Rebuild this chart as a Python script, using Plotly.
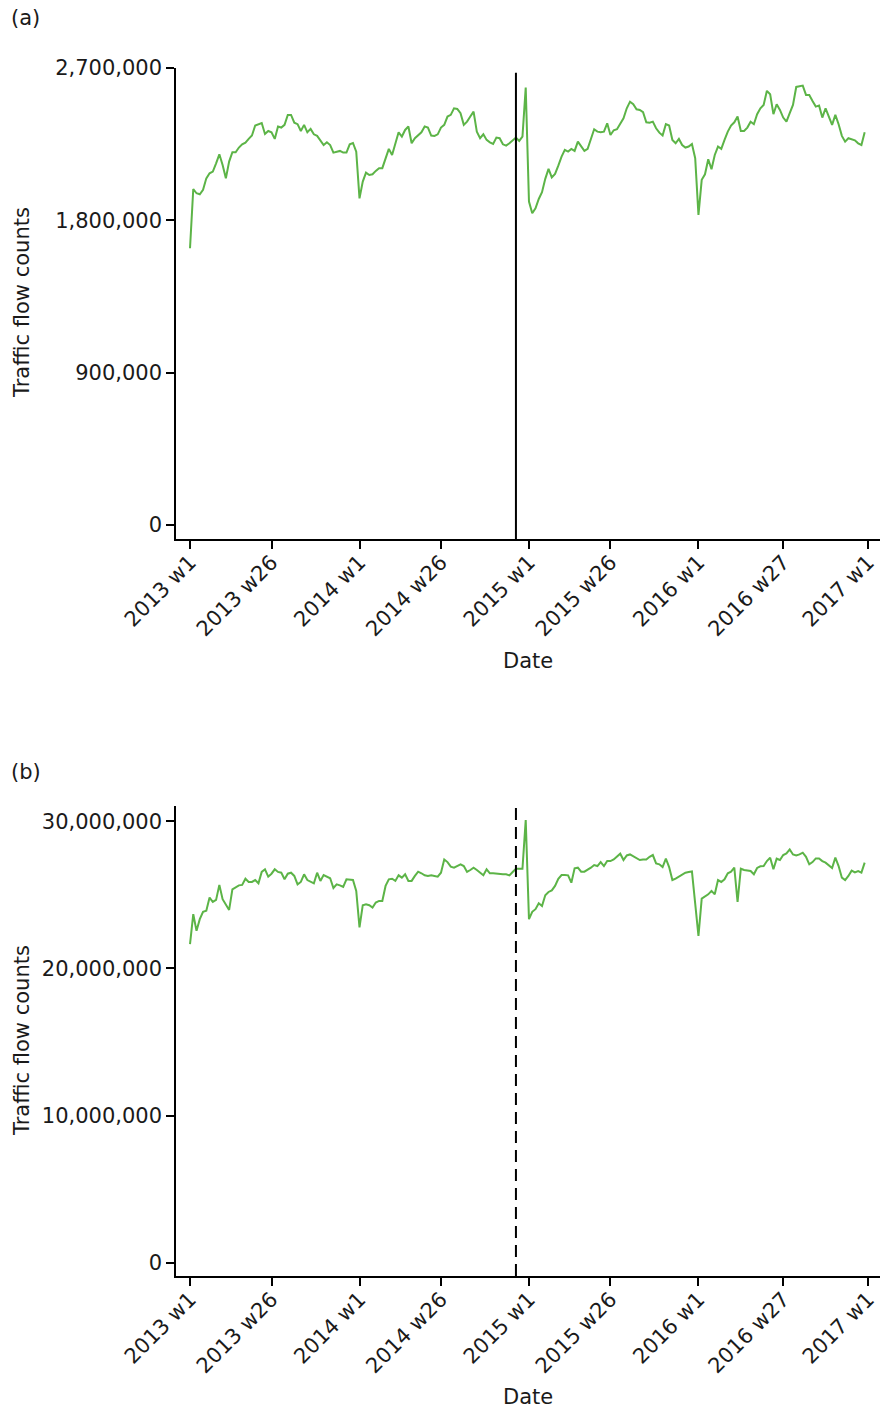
import plotly.graph_objects as go

# Week index 0 = 2013 w1 (52 weeks per year on the axis)
tick_positions = [0, 25, 52, 77, 104, 129, 156, 182, 208]
tick_labels = ["2013 w1", "2013 w26", "2014 w1", "2014 w26", "2015 w1",
               "2015 w26", "2016 w1", "2016 w27", "2017 w1"]
intervention_week = 100  # vertical marker

# Panel (a) traffic flow counts (thousands)
traffic_a_thousands = [
    1635, 1985, 1960, 1954, 1980, 2048, 2078, 2088, 2137, 2190, 2127, 2048, 2147, 2202, 2202, 2230,
    2249, 2259, 2281, 2301, 2360, 2368, 2375, 2310, 2328, 2320, 2281, 2354, 2348, 2364, 2423, 2423,
    2377, 2368, 2328, 2364, 2320, 2340, 2308, 2299, 2275, 2245, 2261, 2245, 2200, 2206, 2210, 2200,
    2200, 2249, 2257, 2206, 1930,
    2029, 2082, 2068, 2072, 2092, 2108, 2108, 2167, 2222, 2186, 2255, 2320, 2295, 2334, 2354, 2255,
    2285, 2301, 2320, 2354, 2348, 2301, 2299, 2308, 2348, 2364, 2413, 2423, 2462, 2458, 2433, 2364,
    2383, 2413, 2442, 2324, 2285, 2308, 2275, 2261, 2251, 2289, 2285, 2249, 2241, 2255, 2275, 2289,
    2269, 2295, 2584,
    1911, 1842, 1871, 1926, 1966, 2045, 2104, 2054, 2074, 2123, 2176, 2216, 2206, 2222, 2210, 2265,
    2236, 2210, 2222, 2275, 2338, 2324, 2320, 2324, 2373, 2304, 2332, 2338, 2373, 2403, 2462, 2501,
    2486, 2456, 2452, 2439, 2379, 2377, 2383, 2344, 2318, 2301, 2368, 2360, 2275, 2255, 2281, 2245,
    2230, 2236, 2251, 2167, 1832,
    2039, 2072, 2161, 2102, 2186, 2236, 2222, 2275, 2324, 2360, 2379, 2413, 2328, 2328, 2348, 2383,
    2368, 2427, 2462, 2482, 2565, 2545, 2427, 2486, 2452, 2407, 2383, 2433, 2482, 2588, 2590, 2596,
    2541, 2541, 2505, 2472, 2478, 2407, 2462, 2413, 2364, 2423, 2368, 2299, 2265, 2285, 2281, 2273,
    2255, 2245, 2320,
]

# Panel (b) traffic flow counts (millions)
traffic_b_millions = [
    21.65, 23.68, 22.55, 23.34, 23.84, 23.91, 24.81, 24.51, 24.65, 25.67, 24.70, 24.29, 23.97, 25.37,
    25.49, 25.64, 25.67, 26.09, 25.87, 25.87, 26.00, 25.78, 26.55, 26.73, 26.23, 26.43, 26.73, 26.55,
    26.50, 26.05, 26.43, 26.50, 26.28, 25.71, 25.87, 26.39, 26.00, 25.87, 25.78, 26.50, 25.94, 26.34,
    26.23, 26.12, 25.46, 25.71, 25.64, 25.53, 26.05, 26.05, 26.00, 25.26, 22.78,
    24.29, 24.36, 24.29, 24.13, 24.47, 24.58, 24.58, 25.60, 26.05, 26.09, 25.94, 26.32, 26.16, 26.39,
    25.94, 25.94, 26.28, 26.57, 26.46, 26.32, 26.28, 26.32, 26.28, 26.23, 26.50, 27.40, 27.22, 26.91,
    26.84, 26.95, 27.07, 26.95, 26.55, 26.68, 26.84, 26.68, 26.50, 26.32, 26.73, 26.46, 26.46, 26.43,
    26.39, 26.39, 26.39, 26.32, 26.55, 26.77, 26.77, 26.77, 30.07,
    23.34, 23.84, 24.02, 24.42, 24.24, 24.97, 25.19, 25.30, 25.60, 26.09, 26.34, 26.34, 26.32, 25.82,
    26.80, 26.84, 26.57, 26.57, 26.68, 26.84, 27.02, 26.95, 27.22, 26.95, 27.29, 27.29, 27.40, 27.63,
    27.79, 27.36, 27.67, 27.74, 27.63, 27.52, 27.36, 27.40, 27.40, 27.58, 27.70, 27.13, 27.07, 26.88,
    27.45, 26.88, 26.00, 26.09, 26.21, 26.34, 26.50, 26.55, 26.58, 24.40, 22.20,
    24.74, 24.87, 25.03, 25.26, 25.03, 26.00, 25.87, 26.05, 26.46, 26.57, 26.84, 24.51, 26.77, 26.68,
    26.66, 26.61, 26.39, 26.82, 26.93, 26.95, 27.29, 27.52, 26.73, 27.45, 27.36, 27.70, 27.81, 28.08,
    27.74, 27.67, 27.74, 27.86, 27.58, 27.07, 27.22, 27.47, 27.47, 27.29, 27.18, 27.00, 26.82, 27.52,
    26.95, 26.16, 26.00, 26.28, 26.64, 26.52, 26.61, 26.50, 27.18,
]

yticks_a = [0, 900000, 1800000, 2700000]
yticks_b = [0, 10000000, 20000000, 30000000]

weeks_a = list(range(len(traffic_a_thousands)))
weeks_b = list(range(len(traffic_b_millions)))
ya = [v * 1000 for v in traffic_a_thousands]
yb = [v * 1000000 for v in traffic_b_millions]

W, H = 880, 1412
FONT = "DejaVu Sans"
FS = 21
TXT = "#1a1a1a"
GREEN = "#5cb447"

def py(px):
    return 1 - px / H

fig = go.Figure()
fig.add_trace(go.Scatter(x=weeks_a, y=ya, mode="lines", line=dict(color=GREEN, width=2),
                         xaxis="x", yaxis="y", showlegend=False))
fig.add_trace(go.Scatter(x=weeks_b, y=yb, mode="lines", line=dict(color=GREEN, width=2),
                         xaxis="x2", yaxis="y2", showlegend=False))

xdom = [176 / W, 1.0]
xr = [-4.3, 211.7]
common_x = dict(range=xr, tickmode="array", tickvals=tick_positions, ticktext=tick_labels,
                tickangle=-45, showline=True, linecolor="black", linewidth=1.5,
                ticks="outside", ticklen=8, tickwidth=1.5, tickcolor="black",
                showgrid=False, zeroline=False, automargin=False,
                ticklabelstandoff=-7, ticklabeloverflow="allow",
                tickfont=dict(family=FONT, size=FS, color=TXT))
common_y = dict(showline=True, linecolor="black", linewidth=1.5, ticks="outside",
                ticklen=8, tickwidth=1.5, tickcolor="black", showgrid=False,
                zeroline=False, tickformat=",", tickmode="array", automargin=False,
                tickfont=dict(family=FONT, size=FS, color=TXT))

fig.update_layout(
    template="none",
    width=W, height=H, margin=dict(l=0, r=0, t=0, b=0, autoexpand=False),
    paper_bgcolor="white", plot_bgcolor="white",
    xaxis=dict(domain=xdom, anchor="y", **common_x),
    yaxis=dict(domain=[py(539), py(68)], anchor="x", range=[-83000, 2700000],
               tickvals=yticks_a, **common_y),
    xaxis2=dict(domain=xdom, anchor="y2", **common_x),
    yaxis2=dict(domain=[py(1276), py(806)], anchor="x2", range=[-900000, 31030000],
                tickvals=yticks_b, **common_y),
)

fig.add_shape(type="line", xref="x", yref="y domain", x0=intervention_week, x1=intervention_week,
              y0=0, y1=0.99, line=dict(color="black", width=2))
fig.add_shape(type="line", xref="x2", yref="y2 domain", x0=intervention_week, x1=intervention_week,
              y0=0, y1=1, line=dict(color="black", width=2, dash="12px,7px"))

ann = []
def add_text(text, xpx, ypx, angle=0, xanchor="center"):
    ann.append(dict(text=text, x=xpx / W, y=py(ypx), xref="paper", yref="paper",
                    showarrow=False, textangle=angle, xanchor=xanchor, yanchor="middle",
                    font=dict(family=FONT, size=FS, color=TXT)))

add_text("(a)", 9, 18, xanchor="left")
add_text("(b)", 9, 772, xanchor="left")
add_text("Date", 528, 661)
add_text("Date", 528, 1397)
add_text("Traffic flow counts", 22, 303, angle=-90)
add_text("Traffic flow counts", 22, 1041, angle=-90)
fig.update_layout(annotations=ann)

fig.write_html("out.html", config={"displayModeBar": False},
               post_script="document.body.style.margin='0';document.body.style.padding='0';")
